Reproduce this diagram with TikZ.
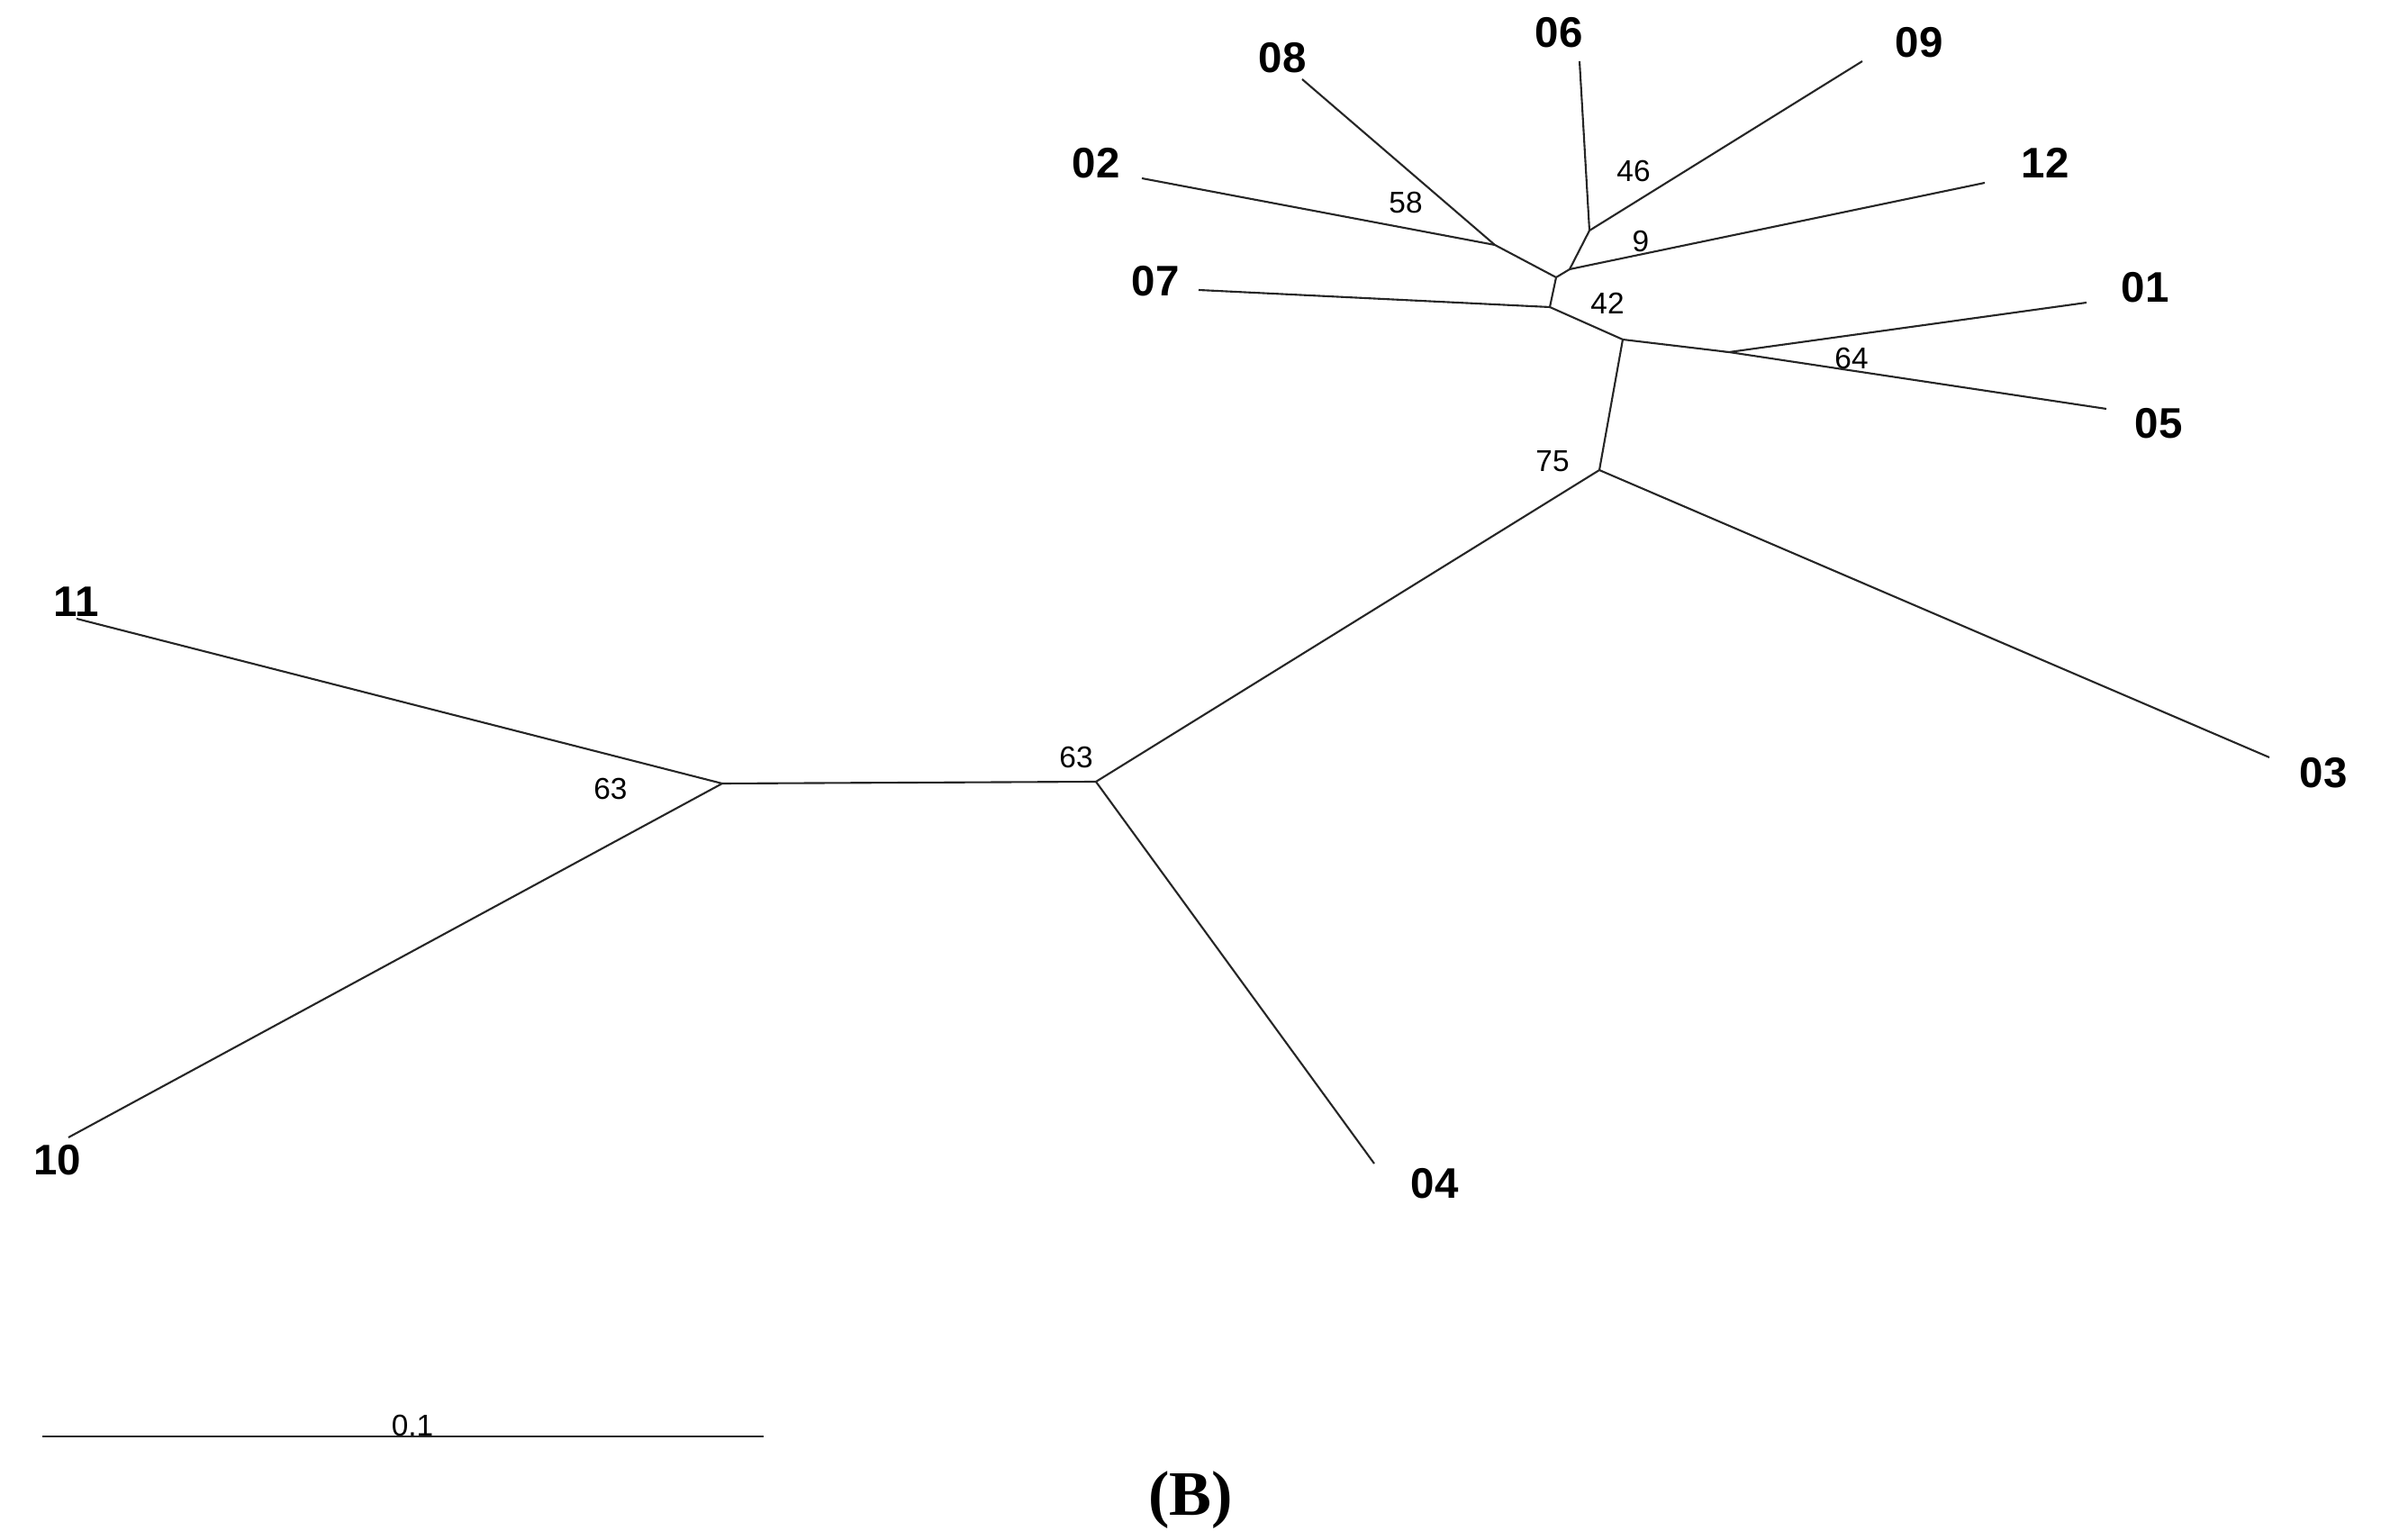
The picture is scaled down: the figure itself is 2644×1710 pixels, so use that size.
\documentclass[tikz,border=0pt]{standalone}
\usepackage{fontspec}
\setmainfont{Liberation Sans}
\newfontfamily\capfont{Liberation Serif}
\begin{document}
\begin{tikzpicture}[x=0.01cm,y=-0.01cm,
  branch/.style={draw=black!85,line width=0.6pt},
  leaf/.style={font=\fontsize{13.5}{14}\selectfont\bfseries,inner sep=0pt},
  boot/.style={font=\fontsize{9.5}{10}\selectfont,inner sep=0pt}]

  \useasboundingbox (0,0) rectangle (2644,1710);

  % Internal nodes
  \coordinate (nA) at (1721,341);
  \coordinate (nB) at (1728,308);
  \coordinate (nC) at (1743,299);
  \coordinate (nD) at (1765,256);
  \coordinate (nE) at (1802,377);
  \coordinate (nF) at (1920,391);
  \coordinate (nG) at (1660,272);
  \coordinate (nH) at (1776,522);
  \coordinate (nI) at (1217,868);
  \coordinate (nJ) at (802,870);

  % Leaf ends
  \coordinate (e08) at (1446,88);
  \coordinate (e02) at (1268,198);
  \coordinate (e07) at (1331,322);
  \coordinate (e06) at (1754,68);
  \coordinate (e09) at (2068,68);
  \coordinate (e12) at (2204,203);
  \coordinate (e01) at (2317,336);
  \coordinate (e05) at (2339,454);
  \coordinate (e03) at (2520,841);
  \coordinate (e04) at (1526,1292);
  \coordinate (e11) at (85,687);
  \coordinate (e10) at (76,1263);

  % Leaf labels
  \node[leaf] (l08) at (1424,64)  {08};
  \node[leaf] (l02) at (1217,181) {02};
  \node[leaf] (l07) at (1283,312) {07};
  \node[leaf] (l06) at (1731,36)  {06};
  \node[leaf] (l09) at (2131,47)  {09};
  \node[leaf] (l12) at (2271,181) {12};
  \node[leaf] (l01) at (2382,319) {01};
  \node[leaf] (l05) at (2397,470) {05};
  \node[leaf] (l03) at (2580,858) {03};
  \node[leaf] (l04) at (1593,1314) {04};
  \node[leaf] (l11) at (85,668)   {11};
  \node[leaf] (l10) at (64,1288)  {10};

  % Bootstrap values
  \node[boot] (b58) at (1561,225) {58};
  \node[boot] (b46) at (1814,190) {46};
  \node[boot] (b9)  at (1822,268) {9};
  \node[boot] (b42) at (1785,337) {42};
  \node[boot] (b64) at (2056,398) {64};
  \node[boot] (b75) at (1724,512) {75};
  \node[boot] (b63a) at (1195,841) {63};
  \node[boot] (b63b) at (678,876) {63};

  % Branches
  \draw[branch] (e08) -- (nG) -- (nB);
  \draw[branch] (e02) -- (nG);
  \draw[branch] (e07) -- (nA);
  \draw[branch] (nA) -- (nB) -- (nC) -- (nD);
  \draw[branch] (e06) -- (nD) -- (e09);
  \draw[branch] (nC) -- (e12);
  \draw[branch] (nA) -- (nE) -- (nF);
  \draw[branch] (e01) -- (nF) -- (e05);
  \draw[branch] (nE) -- (nH) -- (e03);
  \draw[branch] (nH) -- (nI) -- (e04);
  \draw[branch] (nI) -- (nJ);
  \draw[branch] (e11) -- (nJ) -- (e10);

  % Scale bar
  \coordinate (s0) at (47,1595);
  \coordinate (s1) at (848,1595);
  \draw[branch] (s0) -- (s1);
  \node[boot] (scale) at (458,1583) {0.1};

  \node[font=\capfont\fontsize{20}{22}\selectfont\bfseries] (cap) at (1322,1666) {(B)};
\end{tikzpicture}
\end{document}
